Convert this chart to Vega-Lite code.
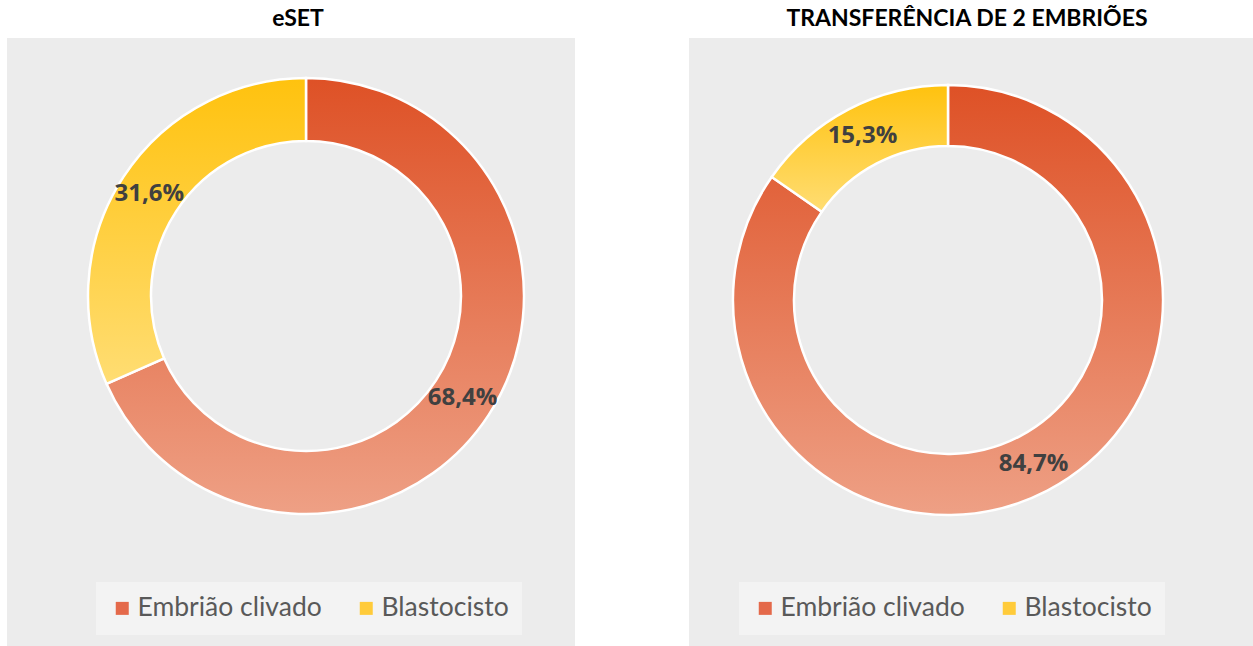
{
  "$schema": "https://vega.github.io/schema/vega-lite/v6.json",
  "padding": {"left": 7, "top": 8, "right": 0, "bottom": 0},
  "spacing": 114,
  "config": {
    "view": {"fill": "#ececec", "stroke": null},
    "title": {"font": "Lato", "fontSize": 23, "fontWeight": "bold", "color": "#000000", "anchor": "middle", "offset": 7},
    "legend": {"orient": "none", "direction": "horizontal", "title": null, "symbolType": "square", "symbolSize": 169, "symbolStrokeWidth": 0, "symbolOpacity": 1, "labelFont": "Lato", "labelFontSize": 26.5, "labelColor": "#595959", "labelOffset": 2, "labelLimit": 400, "columnPadding": 31, "padding": 13, "fillColor": "rgba(255,255,255,0.4)", "strokeColor": null}
  },
  "hconcat": [
    {
      "title": {"text": "eSET", "dx": 7},
      "width": 568,
      "height": 609,
      "data": {"values": [
        {"cat": "Embrião clivado", "pct": 68.4, "label": "68,4%"},
        {"cat": "Blastocisto", "pct": 31.6, "label": "31,6%"}
      ]},
      "encoding": {
        "theta": {"field": "pct", "type": "quantitative", "stack": true},
        "order": {"field": "cat", "type": "nominal", "sort": "descending"},
        "x": {"value": 299},
        "y": {"value": 258}
      },
      "layer": [
        {
          "mark": {"type": "square", "size": 0, "filled": true},
          "encoding": {
            "color": {"field": "cat", "type": "nominal", "scale": {"domain": ["Embrião clivado", "Blastocisto"], "range": ["#E4694A", "#FFCB3A"]}, "legend": {"legendX": 89, "legendY": 544}}
          }
        },
        {
          "mark": {"type": "arc", "outerRadius": 218, "innerRadius": 155, "stroke": "#ffffff", "strokeWidth": 2.5},
          "encoding": {
            "fill": {
              "condition": {"test": "datum.cat === 'Blastocisto'", "value": {"gradient": "linear", "x1": 0, "y1": 0, "x2": 0, "y2": 1, "stops": [{"offset": 0, "color": "#FFC20E"}, {"offset": 1, "color": "#FFDD73"}]}},
              "value": {"gradient": "linear", "x1": 0, "y1": 0, "x2": 0, "y2": 1, "stops": [{"offset": 0, "color": "#DE5126"}, {"offset": 1, "color": "#EEA085"}]}
            }
          }
        },
        {
          "mark": {"type": "text", "radius": 187, "font": "Open Sans", "fontSize": 24, "fontWeight": "bold"},
          "encoding": {"text": {"field": "label"}, "color": {"value": "#404040"}}
        }
      ]
    },
    {
      "title": {"text": "TRANSFERÊNCIA DE 2 EMBRIÕES", "dx": -4},
      "width": 564,
      "height": 609,
      "data": {"values": [
        {"cat": "Embrião clivado", "pct": 84.7, "label": "84,7%"},
        {"cat": "Blastocisto", "pct": 15.3, "label": "15,3%"}
      ]},
      "encoding": {
        "theta": {"field": "pct", "type": "quantitative", "stack": true},
        "order": {"field": "cat", "type": "nominal", "sort": "descending"},
        "x": {"value": 259},
        "y": {"value": 262}
      },
      "layer": [
        {
          "mark": {"type": "square", "size": 0, "filled": true},
          "encoding": {
            "color": {"field": "cat", "type": "nominal", "scale": {"domain": ["Embrião clivado", "Blastocisto"], "range": ["#E4694A", "#FFCB3A"]}, "legend": {"legendX": 50, "legendY": 544}}
          }
        },
        {
          "mark": {"type": "arc", "outerRadius": 215, "innerRadius": 154, "stroke": "#ffffff", "strokeWidth": 2.5},
          "encoding": {
            "fill": {
              "condition": {"test": "datum.cat === 'Blastocisto'", "value": {"gradient": "linear", "x1": 0, "y1": 0, "x2": 0, "y2": 1, "stops": [{"offset": 0, "color": "#FFC20E"}, {"offset": 1, "color": "#FFDD73"}]}},
              "value": {"gradient": "linear", "x1": 0, "y1": 0, "x2": 0, "y2": 1, "stops": [{"offset": 0, "color": "#DE5126"}, {"offset": 1, "color": "#EEA085"}]}
            }
          }
        },
        {
          "mark": {"type": "text", "radius": 185, "font": "Open Sans", "fontSize": 24, "fontWeight": "bold"},
          "encoding": {"text": {"field": "label"}, "color": {"value": "#404040"}}
        }
      ]
    }
  ],
  "resolve": {"scale": {"color": "independent"}, "legend": {"color": "independent"}}
}
